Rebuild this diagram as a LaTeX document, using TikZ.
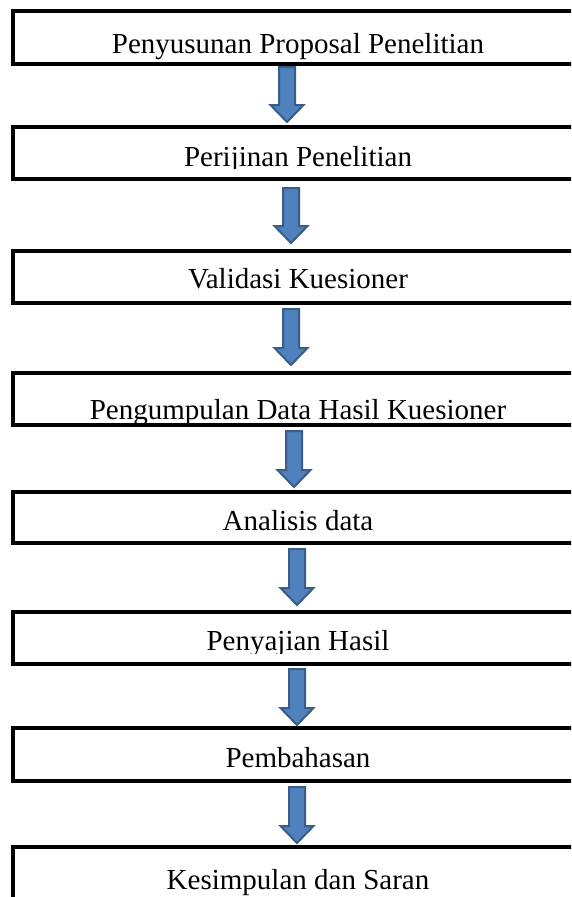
\documentclass[tikz,border=0pt]{standalone}
\usepackage{fontspec}
\setmainfont{Liberation Serif}
\definecolor{arrfill}{HTML}{4F81BD}
\definecolor{arrline}{HTML}{385D8A}
\newcommand\blockarr[4]{%
  % #1 name, #2 x, #3 top y, #4 tip y
  \coordinate (#1s) at (#2,#3);
  \coordinate (#1e) at (#2,#4);
  \draw[arr] ([xshift=-8pt]#1s) -- ([xshift=8pt]#1s) -- ([xshift=8pt,yshift=17pt]#1e)
    -- ([xshift=16.5pt,yshift=17pt]#1e) -- (#1e) -- ([xshift=-16.5pt,yshift=17pt]#1e)
    -- ([xshift=-8pt,yshift=17pt]#1e) -- cycle;}
\begin{document}
\begin{tikzpicture}[x=1pt,y=-1pt,
  boxst/.style={draw=black, line width=3.5pt, anchor=north west, inner sep=0pt, outer sep=0pt, minimum width=572pt},
  lbl/.style={anchor=base, inner sep=0pt, font=\fontsize{29}{32}\selectfont},
  arr/.style={fill=arrfill, draw=arrline, line width=2pt, line join=miter}]
\useasboundingbox (0,0) rectangle (571,897);
\clip (0,0) rectangle (571,897);
% boxes
\node[boxst, minimum height=53pt] (b1) at (13,11) {};
\node[boxst, minimum height=52pt] (b2) at (13,127) {};
\node[boxst, minimum height=52pt] (b3) at (13,251) {};
\node[boxst, minimum height=52pt] (b4) at (13,373) {};
\node[boxst, minimum height=51pt] (b5) at (13,492) {};
\node[boxst, minimum height=52pt] (b6) at (13,612) {};
\node[boxst, minimum height=53pt] (b7) at (13,728) {};
\node[boxst, minimum height=80pt] (b8) at (13,847) {};
% labels
\node[lbl] (t1) at (298,53) {Penyusunan Proposal Penelitian};
\begin{scope}
  \clip (13,127) rectangle (584,168);
  \node[lbl] (t2) at (298,166) {Perijinan Penelitian};
\end{scope}
\node[lbl] (t3) at (298,288) {Validasi Kuesioner};
\begin{scope}
  \clip (13,373) rectangle (584,422);
  \node[lbl] (t4) at (298,419) {Pengumpulan Data Hasil Kuesioner};
\end{scope}
\node[lbl] (t5) at (298,530) {Analisis data};
\begin{scope}
  \clip (13,612) rectangle (584,653);
  \node[lbl] (t6) at (298,650) {Penyajian Hasil};
\end{scope}
\node[lbl] (t7) at (298,767) {Pembahasan};
\node[lbl] (t8) at (298,889) {Kesimpulan dan Saran};
% arrows
\blockarr{a1}{287}{67}{122}
\blockarr{a2}{291}{188}{243}
\blockarr{a3}{291}{309}{365}
\blockarr{a4}{294}{431}{487}
\blockarr{a5}{297}{549}{605}
\blockarr{a6}{297}{669}{725}
\blockarr{a7}{297}{787}{843}
\end{tikzpicture}
\end{document}
